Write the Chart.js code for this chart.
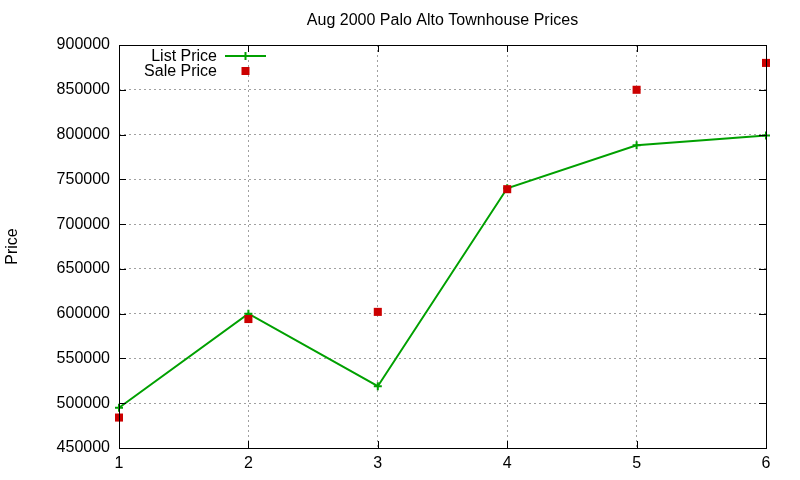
<!DOCTYPE html>
<html><head><meta charset="utf-8">
<script src="https://cdn.jsdelivr.net/npm/chart.js@4.4.0/dist/chart.umd.min.js"></script>
<style>html,body{margin:0;padding:0;background:#fff;}#wrap{width:800px;height:480px;}</style>
</head><body><div id="wrap"><canvas id="c" width="800" height="480"></canvas></div>
<script>
const xValues = [1, 2, 3, 4, 5, 6];
const listPrice = [495000, 600000, 519000, 740000, 788000, 799000];
const salePrice = [484000, 594000, 602000, 739000, 850000, 880000];
const seriesLabels = ['List Price', 'Sale Price'];
const titleText = 'Aug 2000 Palo Alto Townhouse Prices';
const yTitle = 'Price';

const FONT = "'Liberation Sans', Arial, sans-serif";
const FS = 16;

const gnuplotPlugin = {
  id: 'gnuplot',
  afterDatasetsDraw(chart) {
    const ctx = chart.ctx, a = chart.chartArea;
    const xs = chart.scales.x, ys = chart.scales.y;
    ctx.save();
    ctx.strokeStyle = '#000'; ctx.lineWidth = 1;
    ctx.strokeRect(Math.round(a.left) + 0.5, Math.round(a.top) + 0.5, Math.round(a.right - a.left), Math.round(a.bottom - a.top));
    ctx.beginPath();
    ys.ticks.forEach(t => {
      const y = Math.round(ys.getPixelForValue(t.value)) + 0.5;
      ctx.moveTo(a.left, y); ctx.lineTo(a.left + 7, y);
      ctx.moveTo(a.right, y); ctx.lineTo(a.right - 7, y);
    });
    xs.ticks.forEach(t => {
      const x = Math.round(xs.getPixelForValue(t.value)) + 0.5;
      ctx.moveTo(x, a.bottom); ctx.lineTo(x, a.bottom - 7);
      ctx.moveTo(x, a.top); ctx.lineTo(x, a.top + 7);
    });
    ctx.stroke();
    // title
    ctx.font = FS + 'px ' + FONT;
    ctx.fillStyle = '#000'; ctx.textAlign = 'center'; ctx.textBaseline = 'middle';
    ctx.fillText(titleText, (a.left + a.right) / 2, 21);
    // legend
    ctx.textAlign = 'right';
    const lx = 217, sx0 = 225, sx1 = 266, rowY = [a.top + 11.5, a.top + 27];
    chart.data.datasets.forEach((ds, i) => {
      const y = rowY[i];
      ctx.fillStyle = '#000';
      ctx.fillText(ds.label, lx, y);
      const cx = (sx0 + sx1) / 2;
      const my = Math.round(y - 1);
      if (ds.showLine) {
        ctx.strokeStyle = ds.borderColor; ctx.lineWidth = 2;
        ctx.beginPath(); ctx.moveTo(sx0, my); ctx.lineTo(sx1, my); ctx.stroke();
        ctx.beginPath(); ctx.moveTo(cx, my - 4); ctx.lineTo(cx, my + 4); ctx.stroke();
      } else {
        ctx.fillStyle = ds.pointBackgroundColor;
        ctx.fillRect(cx - 4, my - 4, 8, 8);
      }
    });
    ctx.restore();
  }
};

new Chart(document.getElementById('c'), {
  type: 'scatter',
  data: {
    datasets: [
      {
        label: seriesLabels[0],
        data: xValues.map((x, i) => ({x, y: listPrice[i]})),
        showLine: true,
        clip: false,
        borderColor: '#00a000',
        backgroundColor: '#00a000',
        borderWidth: 2,
        pointStyle: 'cross',
        pointRadius: 4,
        pointBorderColor: '#00a000',
        pointBorderWidth: 2,
        order: 2
      },
      {
        label: seriesLabels[1],
        data: xValues.map((x, i) => ({x, y: salePrice[i]})),
        showLine: false,
        clip: false,
        pointStyle: 'rect',
        pointRadius: 5.7,
        pointBackgroundColor: '#cc0000',
        pointBorderColor: '#cc0000',
        pointBorderWidth: 0,
        order: 1
      }
    ]
  },
  options: {
    responsive: false,
    animation: false,
    devicePixelRatio: 1,
    layout: {padding: {left: 0, right: 34, top: 45, bottom: 0}},
    plugins: {
      legend: {display: false},
      tooltip: {enabled: false},
      title: {display: false}
    },
    scales: {
      x: {
        type: 'linear', min: 1, max: 6,
        ticks: {stepSize: 1, color: '#000', font: {family: FONT, size: FS}, padding: 6,
                callback: v => String(v)},
        grid: {color: '#a0a0a0', tickLength: 0, drawTicks: false},
        border: {display: false, dash: [2, 3]},
        afterFit(s) { s.height = 32; }
      },
      y: {
        min: 450000, max: 900000,
        ticks: {stepSize: 50000, color: '#000', font: {family: FONT, size: FS}, padding: 9,
                callback: v => String(v)},
        grid: {color: '#a0a0a0', tickLength: 0, drawTicks: false},
        border: {display: false, dash: [2, 3]},
        title: {display: true, text: yTitle, color: '#000', font: {family: FONT, size: FS}, padding: {top: 3, bottom: 0}},
        afterFit(s) { s.width = 119; }
      }
    }
  },
  plugins: [gnuplotPlugin]
});
</script>
</body></html>
